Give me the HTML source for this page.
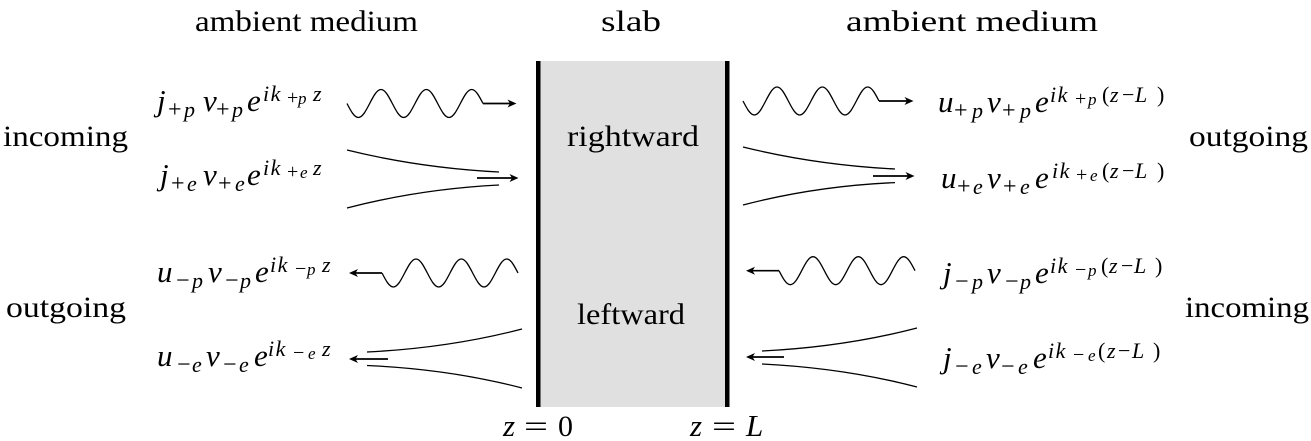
<!DOCTYPE html>
<html><head><meta charset="utf-8"><style>
html,body{margin:0;padding:0;background:#fff}
svg{display:block}
text{font-family:"Liberation Serif",serif;fill:#000}
.t{font-size:30px}
.m{font-size:31px;font-style:italic}
.s{font-size:22px;font-style:italic;letter-spacing:1.5px}
.so{font-size:24px}
.x{font-size:17px;font-style:italic}
.xo{font-size:20px}
.p{font-size:22px}
.l{fill:none;stroke:#000;stroke-width:1.3}
.a{fill:none;stroke:#000;stroke-width:1.7}
.h{fill:#000;stroke:none}
</style></head><body>
<svg xmlns="http://www.w3.org/2000/svg" width="1311" height="441" viewBox="0 0 1311 441">
<defs>
<path id="w" class="l" d="M0 0c3.7 7.17 7.23 14 11.335 14c4.105 0 7.635 -6.83 11.335 -14c3.7 -7.17 7.23 -14 11.335 -14c4.105 0 7.635 6.83 11.335 14c3.7 7.17 7.23 14 11.335 14c4.105 0 7.635 -6.83 11.335 -14c3.7 -7.17 7.23 -14 11.335 -14c4.105 0 7.635 6.83 11.335 14c3.7 7.17 7.23 14 11.335 14c4.105 0 7.635 -6.83 11.335 -14c3.7 -7.17 7.23 -14 11.335 -14c4.105 0 7.635 6.83 11.335 14"/>
<path id="r" class="h" d="M0 0l-9 -4l2.5 4l-2.5 4z"/>
<path id="f" class="h" d="M0 0l9 -4l-2.5 4l2.5 4z"/>
</defs>
<rect x="538" y="61" width="189" height="346" fill="#e0e0e0"/>
<rect x="536" y="61" width="4.5" height="346"/>
<rect x="725" y="61" width="4.5" height="346"/>

<text class="t" x="195" y="31" textLength="223" lengthAdjust="spacingAndGlyphs">ambient medium</text>
<text class="t" x="601" y="31" textLength="60" lengthAdjust="spacingAndGlyphs">slab</text>
<text class="t" x="846" y="31" textLength="252" lengthAdjust="spacingAndGlyphs">ambient medium</text>
<text class="t" x="3" y="146" textLength="125" lengthAdjust="spacingAndGlyphs">incoming</text>
<text class="t" x="6" y="317" textLength="120" lengthAdjust="spacingAndGlyphs">outgoing</text>
<text class="t" x="1189" y="146" textLength="119" lengthAdjust="spacingAndGlyphs">outgoing</text>
<text class="t" x="1185" y="317" textLength="124" lengthAdjust="spacingAndGlyphs">incoming</text>
<text class="t" x="567" y="146" textLength="132" lengthAdjust="spacingAndGlyphs">rightward</text>
<text class="t" x="577" y="324" textLength="108" lengthAdjust="spacingAndGlyphs">leftward</text>

<text><tspan class="m" x="503" y="436">z</tspan><tspan class="t" x="524" y="436" textLength="24" lengthAdjust="spacingAndGlyphs">=</tspan><tspan class="t" x="558" y="436">0</tspan></text>
<text><tspan class="m" x="690" y="436">z</tspan><tspan class="t" x="712" y="436" textLength="24" lengthAdjust="spacingAndGlyphs">=</tspan><tspan class="m" x="746" y="436">L</tspan></text>

<g transform="translate(0,1)">
<!-- left formulas -->
<text><tspan class="m" x="157" y="110">j</tspan><tspan class="so" x="168" y="116">+</tspan><tspan class="s" x="184" y="116">p</tspan><tspan class="m" x="203" y="110">v</tspan><tspan class="so" x="216" y="116">+</tspan><tspan class="s" x="232" y="116">p</tspan><tspan class="m" x="247" y="110">e</tspan><tspan class="s" x="263" y="100">ik</tspan><tspan class="xo" x="287" y="103">+</tspan><tspan class="x" x="298" y="103">p</tspan><tspan class="s" x="313" y="100">z</tspan></text>
<text><tspan class="m" x="160" y="184">j</tspan><tspan class="so" x="171" y="190">+</tspan><tspan class="s" x="187" y="190">e</tspan><tspan class="m" x="203" y="184">v</tspan><tspan class="so" x="218" y="190">+</tspan><tspan class="s" x="235" y="190">e</tspan><tspan class="m" x="247" y="184">e</tspan><tspan class="s" x="263" y="174">ik</tspan><tspan class="xo" x="287" y="177">+</tspan><tspan class="x" x="300" y="177">e</tspan><tspan class="s" x="313" y="174">z</tspan></text>
<text><tspan class="m" x="157" y="281">u</tspan><tspan class="so" x="176" y="287">−</tspan><tspan class="s" x="192" y="287">p</tspan><tspan class="m" x="208" y="281">v</tspan><tspan class="so" x="225" y="287">−</tspan><tspan class="s" x="240" y="287">p</tspan><tspan class="m" x="255" y="281">e</tspan><tspan class="s" x="270" y="271">ik</tspan><tspan class="xo" x="295" y="274">−</tspan><tspan class="x" x="307" y="274">p</tspan><tspan class="s" x="322" y="271">z</tspan></text>
<text><tspan class="m" x="157" y="365">u</tspan><tspan class="so" x="177" y="371">−</tspan><tspan class="s" x="192" y="371">e</tspan><tspan class="m" x="206" y="365">v</tspan><tspan class="so" x="223" y="371">−</tspan><tspan class="s" x="239" y="371">e</tspan><tspan class="m" x="254" y="365">e</tspan><tspan class="s" x="268" y="355">ik</tspan><tspan class="xo" x="293" y="358">−</tspan><tspan class="x" x="308" y="358">e</tspan><tspan class="s" x="322" y="355">z</tspan></text>

<!-- right formulas -->
<text><tspan class="m" x="938" y="111">u</tspan><tspan class="so" x="954" y="117">+</tspan><tspan class="s" x="972" y="117">p</tspan><tspan class="m" x="987" y="111">v</tspan><tspan class="so" x="1002" y="117">+</tspan><tspan class="s" x="1020" y="117">p</tspan><tspan class="m" x="1035" y="111">e</tspan><tspan class="s" x="1050" y="101">ik</tspan><tspan class="xo" x="1075" y="104">+</tspan><tspan class="x" x="1088" y="104">p</tspan><tspan class="p" x="1102" y="101">(</tspan><tspan class="s" x="1110" y="101">z</tspan><tspan class="p" x="1122" y="101">−</tspan><tspan class="s" x="1135" y="101">L</tspan><tspan class="p" x="1157" y="101">)</tspan></text>
<text><tspan class="m" x="941" y="187">u</tspan><tspan class="so" x="957" y="193">+</tspan><tspan class="s" x="973" y="193">e</tspan><tspan class="m" x="987" y="187">v</tspan><tspan class="so" x="1003" y="193">+</tspan><tspan class="s" x="1020" y="193">e</tspan><tspan class="m" x="1035" y="187">e</tspan><tspan class="s" x="1052" y="177">ik</tspan><tspan class="xo" x="1076" y="180">+</tspan><tspan class="x" x="1090" y="180">e</tspan><tspan class="p" x="1102" y="177">(</tspan><tspan class="s" x="1110" y="177">z</tspan><tspan class="p" x="1122" y="177">−</tspan><tspan class="s" x="1135" y="177">L</tspan><tspan class="p" x="1157" y="177">)</tspan></text>
<text><tspan class="m" x="943" y="282">j</tspan><tspan class="so" x="955" y="288">−</tspan><tspan class="s" x="972" y="288">p</tspan><tspan class="m" x="987" y="282">v</tspan><tspan class="so" x="1005" y="288">−</tspan><tspan class="s" x="1020" y="288">p</tspan><tspan class="m" x="1035" y="282">e</tspan><tspan class="s" x="1050" y="272">ik</tspan><tspan class="xo" x="1075" y="275">−</tspan><tspan class="x" x="1088" y="275">p</tspan><tspan class="p" x="1101" y="272">(</tspan><tspan class="s" x="1109" y="272">z</tspan><tspan class="p" x="1121" y="272">−</tspan><tspan class="s" x="1134" y="272">L</tspan><tspan class="p" x="1155" y="272">)</tspan></text>
<text><tspan class="m" x="943" y="367">j</tspan><tspan class="so" x="955" y="373">−</tspan><tspan class="s" x="972" y="373">e</tspan><tspan class="m" x="986" y="367">v</tspan><tspan class="so" x="1001" y="373">−</tspan><tspan class="s" x="1018" y="373">e</tspan><tspan class="m" x="1033" y="367">e</tspan><tspan class="s" x="1048" y="357">ik</tspan><tspan class="xo" x="1073" y="360">−</tspan><tspan class="x" x="1088" y="360">e</tspan><tspan class="p" x="1098" y="357">(</tspan><tspan class="s" x="1107" y="357">z</tspan><tspan class="p" x="1118" y="357">−</tspan><tspan class="s" x="1132" y="357">L</tspan><tspan class="p" x="1153" y="357">)</tspan></text>
</g>

<!-- waves -->
<use href="#w" x="347" y="103.5"/>
<use href="#w" x="382" y="273"/>
<use href="#w" x="743" y="101"/>
<use href="#w" x="779" y="270.7"/>

<!-- evanescent curves -->
<path class="l" d="M347 150Q420 168 499 172M347 208Q420 189 499 185"/>
<path class="l" d="M522 329Q449 348 367 352M522 388Q449 369 367 365.5"/>
<path class="l" d="M743 147Q816 165 895 169M743 205Q816 186 895 182.6"/>
<path class="l" d="M917 328Q844 347 762 351M917 387Q844 368 762 364"/>

<!-- arrows -->
<path class="a" d="M483 103.5H510M477 178H512M382 273H355M388 359H355M879 101H907M873 176H908M779 270.7H752M784 357H752"/>
<use href="#r" x="516.5" y="103.5"/>
<use href="#r" x="518.5" y="178"/>
<use href="#f" x="349" y="273"/>
<use href="#f" x="349" y="359"/>
<use href="#r" x="913.5" y="101"/>
<use href="#r" x="914.5" y="176"/>
<use href="#f" x="746" y="270.7"/>
<use href="#f" x="746" y="357"/>
</svg>
</body></html>
